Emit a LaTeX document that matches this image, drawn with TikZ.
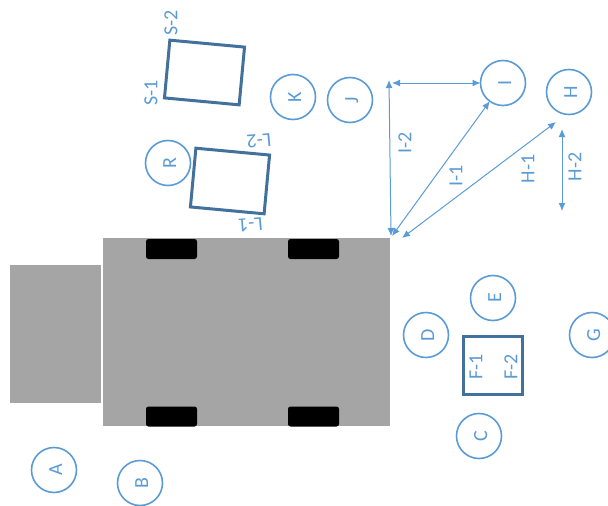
\documentclass[tikz,border=0pt]{standalone}
\usepackage{fontspec}
\setmainfont{Carlito}
\usetikzlibrary{arrows.meta}
\definecolor{lineblue}{HTML}{5B9BD5}
\definecolor{boxblue}{HTML}{41719C}
\definecolor{bodygray}{HTML}{A5A5A5}
\tikzset{
  letter/.style={circle,draw=lineblue,line width=1.6pt,minimum size=45pt,inner sep=0pt,outer sep=0pt,fill=white,text=lineblue,rotate=90,text height=16pt,text depth=0pt,font=\fontsize{20}{20}\selectfont},
  tag/.style={text=lineblue,inner sep=0pt,font=\fontsize{20}{20}\selectfont},
  plate/.style={rectangle,draw=boxblue,line width=3pt,inner sep=0pt,outer sep=0pt,fill=white},
  gray part/.style={rectangle,fill=bodygray,inner sep=0pt,outer sep=0pt},
  wheel/.style={rectangle,fill=black,rounded corners=2.5pt,minimum width=51pt,minimum height=20pt,inner sep=0pt},
  dim/.style={draw=lineblue,line width=1pt,{Latex[length=8pt,width=7pt]}-{Latex[length=8pt,width=7pt]}}
}
\begin{document}
\begin{tikzpicture}[x=1pt,y=-1pt]
\useasboundingbox (0,0) rectangle (608,506);
% vehicle
\node[gray part,minimum width=91pt,minimum height=138pt] (trailer) at (55.5,334) {};
\node[gray part,minimum width=287pt,minimum height=188pt] (body) at (246.5,332) {};
\node[wheel] (w1) at (171.5,249) {};
\node[wheel] (w2) at (313.5,249) {};
\node[wheel] (w3) at (171.5,416.5) {};
\node[wheel] (w4) at (313.5,416.5) {};
% circles
\node[letter] (A) at (54,470) {A};
\node[letter] (B) at (140,483) {B};
\node[letter] (C) at (479,436) {C};
\node[letter] (D) at (426,335) {D};
\node[letter] (E) at (493,298) {E};
\node[letter] (G) at (592,335) {G};
\node[letter] (H) at (569,92) {H};
\node[letter] (I) at (503,83) {I};
\node[letter] (J) at (350,100) {J};
\node[letter] (K) at (293,97) {K};
\node[letter] (R) at (168,163) {R};
% plates
\node[plate,rotate=-5.3,minimum width=75pt,minimum height=58pt] (S) at (204.5,72.5) {};
\node[plate,rotate=-5.3,minimum width=74pt,minimum height=59pt] (Lp) at (230,181) {};
\node[plate,minimum width=59pt,minimum height=58pt] (F) at (492.5,365) {};
% plate labels
\node[tag,rotate=90] (S1) at (151,93) {S-1};
\node[tag,rotate=90] (S2) at (171,23) {S-2};
\node[tag,rotate=185] (L1) at (250.5,224.5) {L-1};
\node[tag,rotate=185] (L2) at (259,141) {L-2};
\node[tag,rotate=90] (F1) at (476,367) {F-1};
\node[tag,rotate=90] (F2) at (511,367) {F-2};
% dimension ends
\coordinate (top) at (389,80);
\coordinate (corner) at (391,236);
\coordinate (left) at (392,83);
\coordinate (cornerb) at (392,236);
\coordinate (cornerc) at (402,238);
\coordinate (hend) at (556,122);
\coordinate (ha) at (562,129);
\coordinate (hb) at (562,211);
% dimensions
\draw[dim] (top) -- (corner);
\draw[dim] (left) -- (I);
\draw[dim] (cornerb) -- (I);
\draw[dim] (cornerc) -- (hend);
\draw[dim] (ha) -- (hb);
\node[tag,rotate=90] (I2) at (405,143) {I-2};
\node[tag,rotate=90] (I1) at (456,176) {I-1};
\node[tag,rotate=90] (H1) at (528,169) {H-1};
\node[tag,rotate=90] (H2) at (575,167) {H-2};
\end{tikzpicture}
\end{document}
